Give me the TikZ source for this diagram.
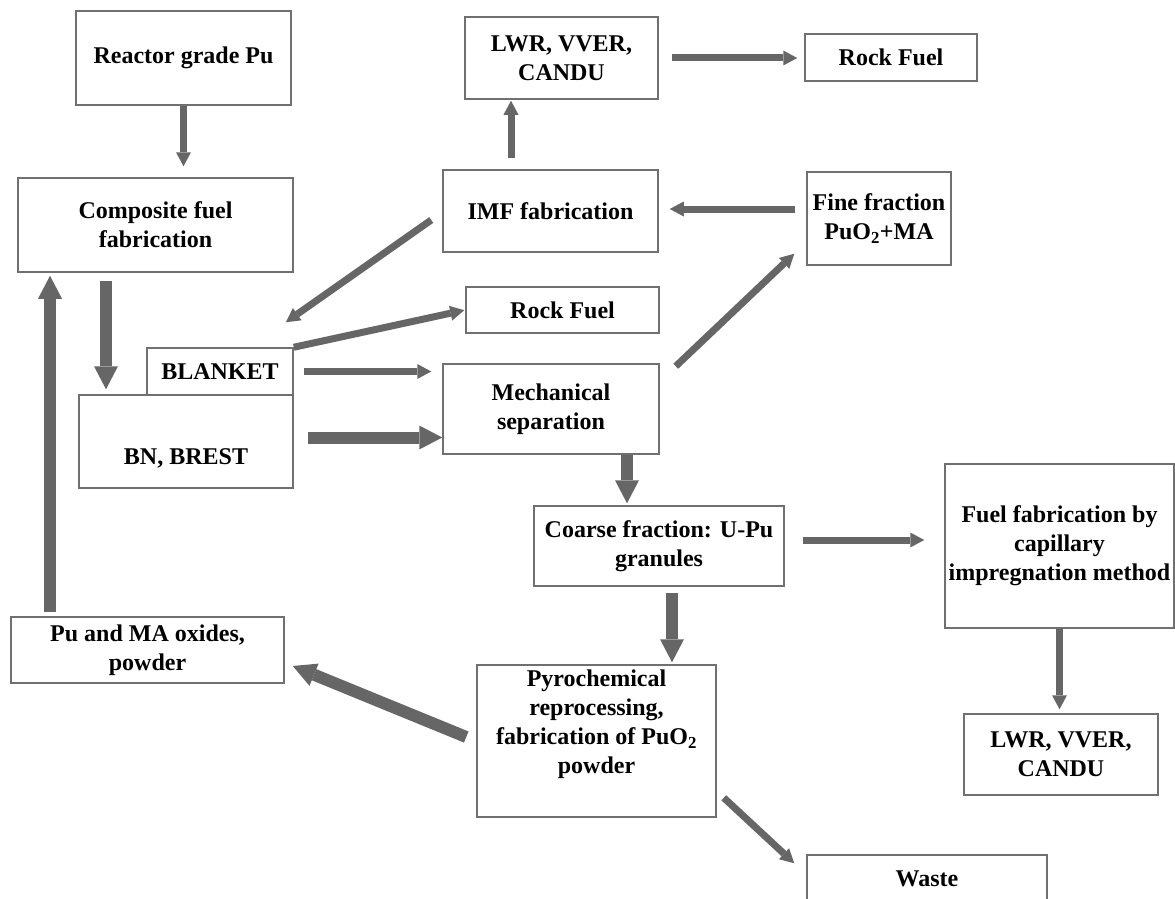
\documentclass[tikz,border=0pt]{standalone}
\usepackage{fontspec}
\setmainfont{Liberation Serif}
\usetikzlibrary{arrows.meta, positioning}

\definecolor{boxgray}{HTML}{707070}
\definecolor{arrowgray}{HTML}{666666}

\tikzset{
	blk/.style={draw=boxgray, line width=1.5pt, align=center, inner sep=2pt,
		font=\fontsize{24}{29}\selectfont\bfseries},
	thinarr/.style={draw=arrowgray, line width=7pt,
		-{Triangle[width=15pt,length=14pt,line width=0pt]}},
	fatarr/.style={draw=arrowgray, line width=12pt,
		-{Triangle[width=24pt,length=23pt,line width=0pt]}}
}

\begin{document}
\begin{tikzpicture}
	[x=1pt, y=-1pt]
	\useasboundingbox (0,0) rectangle (1175,899);
	\clip (0,0) rectangle (1175,899);
	\fill[white] (0,0) rectangle (1175,899);

	% boxes
	\node[blk, minimum width=215pt, minimum height=94pt] (reactor) at (183.5,58) {Reactor grade Pu};
	\node[blk, minimum width=275pt, minimum height=94pt] (composite) at (155.5,225) {Composite fuel\\fabrication};
	\node[blk, minimum width=193pt, minimum height=82pt] (lwrtop) at (561.5,58) {LWR, VVER,\\CANDU};
	\node[blk, minimum width=172pt, minimum height=47pt] (rocktop) at (891,57.5) {Rock Fuel};
	\node[blk, minimum width=215pt, minimum height=82pt] (imf) at (550.5,211) {IMF fabrication};
	\node[blk, minimum width=144pt, minimum height=93pt] (fine) at (879,218.5) {Fine fraction\\PuO\textsubscript{2}+MA};
	\node[blk, minimum width=193pt, minimum height=46pt] (rockmid) at (562.5,310) {Rock Fuel};
	\node[blk, minimum width=214pt, minimum height=93pt] (bn) at (186,441.5) {\strut\\BN, BREST};
	\node[blk, minimum width=146pt, minimum height=47pt] (blanket) at (220,371.5) {BLANKET};
	\node[blk, minimum width=216pt, minimum height=90pt] (mech) at (551,409) {Mechanical\\separation};
	\node[blk, minimum width=250pt, minimum height=80pt] (coarse) at (659,546) {Coarse fraction: U-Pu\\granules};
	\node[blk, minimum width=229pt, minimum height=164pt] (fuelfab) at (1059.5,546) {Fuel fabrication by\\capillary\\impregnation method};
	\node[blk, minimum width=194pt, minimum height=81pt] (lwrbot) at (1061,754.5) {LWR, VVER,\\CANDU};
	\node[blk, minimum width=273pt, minimum height=66pt] (oxides) at (147.5,650) {Pu and MA oxides,\\powder};
	\node[blk, minimum width=239pt, minimum height=152pt] (pyro) at (596.5,741) {Pyrochemical\\reprocessing,\\fabrication of PuO\textsubscript{2}\\powder\\ \strut};
	\node[blk, minimum width=240pt, minimum height=48pt] (waste) at (927,879) {Waste};

	% flows
	\draw[thinarr, shorten >=11pt] (reactor.south) -- (reactor.south |- composite.north);
	\draw[fatarr, shorten <=8pt, shorten >=5pt] ([xshift=-49.5pt]composite.south) -- ([xshift=-49.5pt]composite.south |- bn.north);
	\draw[fatarr, shorten <=4pt, shorten >=3pt] ([xshift=-97.5pt]oxides.north) -- ([xshift=-97.5pt]oxides.north |- composite.south);
	\draw[thinarr, shorten <=13pt, shorten >=7pt] (lwrtop.east) -- (lwrtop.east -| rocktop.west);
	\draw[thinarr, shorten <=11pt, shorten >=1pt] ([xshift=-39.5pt]imf.north) -- ([xshift=-39.5pt]imf.north |- lwrtop.south);
	\draw[thinarr, shorten <=11pt, shorten >=11pt] ([yshift=2pt]imf.east -| fine.west) -- ([yshift=2pt]imf.east);
	\draw[thinarr] ([xshift=-11pt,yshift=-9pt]imf.west) -- ([xshift=-8pt,yshift=25pt]blanket.north east);
	\draw[thinarr, shorten >=1pt] (blanket.north east) -- (rockmid.west);
	\draw[thinarr, shorten <=10pt, shorten >=11pt] (blanket.east) -- (blanket.east -| mech.west);
	\draw[fatarr, shorten <=14pt] ([yshift=4pt]bn.east) -- ([yshift=4pt]bn.east -| mech.west);
	\draw[thinarr] ([xshift=16pt,yshift=-3pt]mech.north east) -- ([xshift=-12pt,yshift=12pt]fine.south west);
	\draw[fatarr, shorten >=2pt] ([xshift=76pt]mech.south) -- ([xshift=76pt]mech.south |- coarse.north);
	\draw[thinarr, shorten <=18pt, shorten >=20pt] ([yshift=6pt]coarse.east) -- ([yshift=6pt]coarse.east -| fuelfab.west);
	\draw[thinarr, shorten >=4pt] (fuelfab.south) -- (fuelfab.south |- lwrbot.north);
	\draw[fatarr, shorten <=6pt, shorten >=2pt] ([xshift=13pt]coarse.south) -- ([xshift=13pt]coarse.south |- pyro.north);
	\draw[fatarr] ([xshift=-10pt,yshift=4pt]pyro.west) -- ([xshift=8pt,yshift=-16pt]oxides.east);
	\draw[thinarr] ([xshift=7pt,yshift=20pt]pyro.south east) -- ([xshift=-12pt,yshift=-9pt]waste.north west);
\end{tikzpicture}
\end{document}
